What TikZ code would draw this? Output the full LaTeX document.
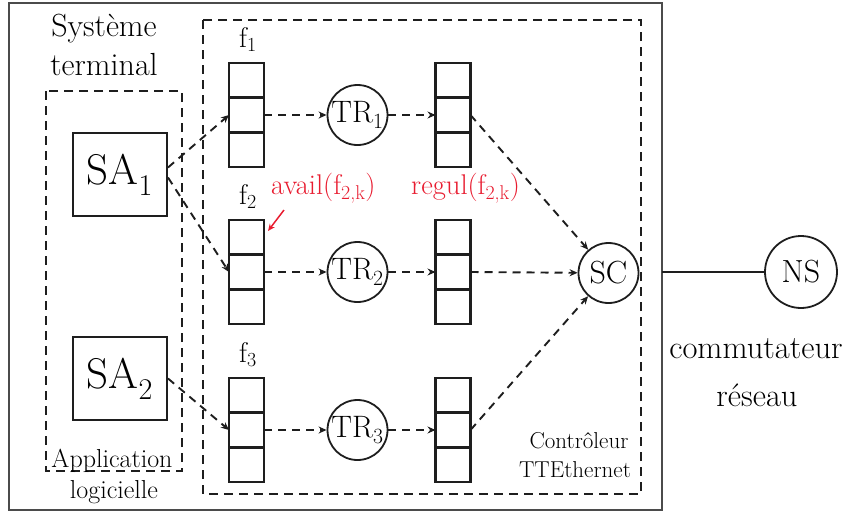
\documentclass[tikz,border=0pt]{standalone}
\usetikzlibrary{arrows.meta,calc}
\definecolor{redlab}{RGB}{232,28,48}
\definecolor{ink}{RGB}{30,30,30}
\begin{document}
\begin{tikzpicture}[x=1pt,y=-1pt,
  cell/.style={draw=ink, line width=2.4pt, minimum width=35pt, minimum height=34.7pt, inner sep=0pt, outer sep=0pt},
  proc/.style={draw=ink, circle, line width=1.8pt, minimum size=60pt, inner sep=0pt, text=black, font=\fontsize{31}{36}\selectfont},
  appbox/.style={draw=ink, line width=2pt, minimum width=94pt, minimum height=83pt, inner sep=0pt, text=black, font=\fontsize{43}{50}\selectfont},
  dashbox/.style={draw=ink, line width=2pt, dash pattern=on 9pt off 6pt},
  flow/.style={draw=ink, line width=1.9pt, dash pattern=on 8pt off 6pt, -{Stealth[length=8pt,width=7pt]}},
  lbl/.style={anchor=base, inner sep=0pt, text=black},
  redlbl/.style={anchor=base west, inner sep=0pt, text=redlab, font=\fontsize{28.5}{33}\selectfont},
]
\useasboundingbox (0,0) rectangle (849,512);
% outer boxes
\draw[line width=1.3pt, draw=ink!80] (9,3) rectangle (662,510);
\draw[dashbox] (203,20) rectangle (641,494);
\draw[dashbox] (46,91) rectangle (182,471);
\coordinate (port) at (662,272);

% titles
\node[lbl, font=\fontsize{32}{38}\selectfont] (sysA) at (104,36) {Système};
\node[lbl, font=\fontsize{32}{38}\selectfont] (sysB) at (104,75) {terminal};
\node[lbl, font=\fontsize{26}{31}\selectfont] (appA) at (112,467) {Application};
\node[lbl, font=\fontsize{26}{31}\selectfont] (appB) at (114,498) {logicielle};
\node[lbl, font=\fontsize{23}{28}\selectfont] (ctlA) at (579,448) {Contrôleur};
\node[lbl, font=\fontsize{23}{28}\selectfont] (ctlB) at (575,477) {TTEthernet};
\node[lbl, font=\fontsize{32.5}{38}\selectfont] (comA) at (756,358) {commutateur};
\node[lbl, font=\fontsize{32.5}{38}\selectfont] (comB) at (757,406) {réseau};

% applications
\node[appbox] (SA1) at (120,174.5) {SA\textsubscript{1}};
\node[appbox] (SA2) at (120,378.5) {SA\textsubscript{2}};

% queues
\foreach \r/\y in {1/115, 2/272, 3/430}{
  \node[cell] (a\r t) at (246.5,\y-34.7) {};
  \node[cell] (a\r m) at (246.5,\y) {};
  \node[cell] (a\r b) at (246.5,\y+34.7) {};
  \node[cell] (b\r t) at (453,\y-34.7) {};
  \node[cell] (b\r m) at (453,\y) {};
  \node[cell] (b\r b) at (453,\y+34.7) {};
}
\node[lbl, font=\fontsize{28.5}{33}\selectfont] (f1) at (248,47) {f\textsubscript{1}};
\node[lbl, font=\fontsize{28.5}{33}\selectfont] (f2) at (248,204) {f\textsubscript{2}};
\node[lbl, font=\fontsize{28.5}{33}\selectfont] (f3) at (248,362) {f\textsubscript{3}};

% regulators
\node[proc] (TR1) at (357.5,115) {TR\textsubscript{1}};
\node[proc] (TR2) at (357.5,272) {TR\textsubscript{2}};
\node[proc] (TR3) at (357.5,430) {TR\textsubscript{3}};
\node[proc, font=\fontsize{32}{38}\selectfont] (SC) at (608.5,273) {SC};
\node[proc, minimum size=72pt, font=\fontsize{32}{38}\selectfont] (NS) at (801,272) {NS};

% red labels
\node[redlbl] (avail) at (271,194) {avail(f\textsubscript{2,k})};
\node[redlbl] (regul) at (411,194) {regul(f\textsubscript{2,k})};
\coordinate (availTail) at (284,210);
\coordinate (availTip) at (268,231);
\draw[draw=redlab, line width=1.5pt, -{Stealth[length=7pt,width=6pt]}] (availTail) -- (availTip);

% flows
\draw[flow] ($(SA1.east)+(0,-7)$) -- (a1m.west);
\draw[flow] ($(SA1.east)+(0,3)$) -- (a2m.west);
\draw[flow] (SA2.east) -- (a3m.west);
\foreach \r in {1,2,3}{
  \draw[flow] (a\r m.east) -- (TR\r.west);
  \draw[flow] (TR\r.east) -- (b\r m.west);
  \draw[flow] (b\r m.east) -- (SC);
}
\draw[draw=ink, line width=1.8pt] (port) -- (NS.west);
\end{tikzpicture}
\end{document}
